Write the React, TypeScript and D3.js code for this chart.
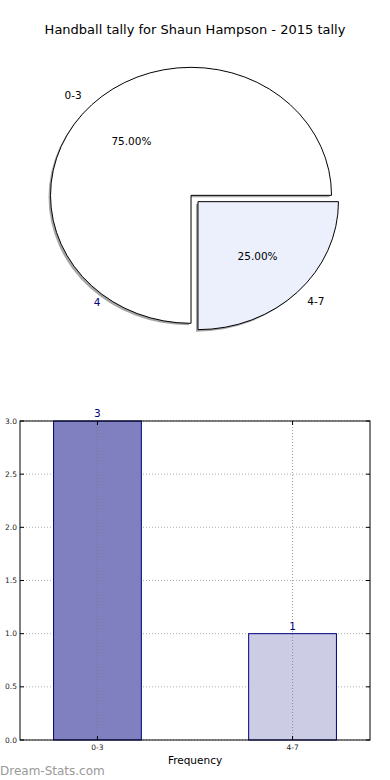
import { useEffect, useRef } from 'react';
import * as d3 from 'd3';

// pie data
const pieLabels = ['0-3', '4-7'];
const pieValues = [3, 1];
const pieColors = ['#ffffff', '#ebf0fc'];

// bar data
const barCategories = ['0-3', '4-7'];
const barValues = [3, 1];
const barColors = ['#8080c0', '#ccccE4'];
const yTickValues = [0, 0.5, 1, 1.5, 2, 2.5, 3];

const W = 390;
const H = 780;

const App = () => {
  const svgRef = useRef<SVGSVGElement | null>(null);

  useEffect(() => {
    const svg = d3.select(svgRef.current);
    svg.selectAll('*').remove();
    const font = '"DejaVu Sans", Verdana, sans-serif';

    svg.append('rect').attr('width', W).attr('height', H).attr('fill', '#fff');

    // Title
    svg.append('text')
      .attr('x', 195)
      .attr('y', 34)
      .attr('text-anchor', 'middle')
      .style('font-family', font)
      .style('font-size', '13px')
      .style('fill', '#000')
      .text('Handball tally for Shaun Hampson - 2015 tally');

    // Pie (elliptical, matplotlib style: start east, counterclockwise)
    const cx = 194.5;
    const cy = 198.5;
    const rx = 140.5;
    const ry = 128;
    const explode = 0.035;

    const pie = d3.pie<number>()
      .sort(null)
      .startAngle(Math.PI / 2)
      .endAngle(Math.PI / 2 - 2 * Math.PI);
    const arcs = pie(pieValues);
    const arc = d3.arc<d3.PieArcDatum<number>>().innerRadius(0).outerRadius(1);
    const total = d3.sum(pieValues);

    const pt = (a: number, r: number) => [Math.sin(a) * r * rx, -Math.cos(a) * r * ry];

    const pieG = svg.append('g');

    // shadows first
    arcs.forEach(d => {
      const mid = (d.startAngle + d.endAngle) / 2;
      const [ox, oy] = pt(mid, explode);
      pieG.append('path')
        .attr('d', arc(d))
        .attr('transform', `translate(${cx + ox - 2},${cy + oy + 2}) scale(${rx},${ry})`)
        .attr('fill', '#4d4d4d')
        .attr('fill-opacity', 0.5);
    });

    arcs.forEach((d, i) => {
      const mid = (d.startAngle + d.endAngle) / 2;
      const [ox, oy] = pt(mid, explode);
      pieG.append('path')
        .attr('d', arc(d))
        .attr('transform', `translate(${cx + ox},${cy + oy}) scale(${rx},${ry})`)
        .attr('fill', pieColors[i])
        .attr('stroke', '#000')
        .attr('stroke-width', 1)
        .attr('vector-effect', 'non-scaling-stroke');

      const [lx, ly] = pt(mid, 1.1);
      pieG.append('text')
        .attr('x', cx + ox + lx)
        .attr('y', cy + oy + ly)
        .attr('dy', '0.35em')
        .attr('text-anchor', lx < 0 ? 'end' : 'start')
        .style('font-family', font)
        .style('font-size', '10.5px')
        .text(pieLabels[i]);

      const [px, py] = pt(mid, 0.6);
      pieG.append('text')
        .attr('x', cx + ox + px)
        .attr('y', cy + oy + py)
        .attr('dy', '0.35em')
        .attr('text-anchor', 'middle')
        .style('font-family', font)
        .style('font-size', '10.5px')
        .text(`${((pieValues[i] / total) * 100).toFixed(2)}%`);
    });

    // stray label
    pieG.append('text')
      .attr('x', 97)
      .attr('y', 302)
      .attr('dy', '0.35em')
      .attr('text-anchor', 'middle')
      .style('font-family', font)
      .style('font-size', '10.5px')
      .style('fill', '#000080')
      .text('4');

    // Bar chart
    const left = 20, right = 370, top = 421, bottom = 740;

    const xScale = d3.scalePoint<string>()
      .domain(barCategories)
      .range([left, right])
      .padding(0.397);
    const barW = xScale.step() * 0.45;

    const yScale = d3.scaleLinear().domain([0, 3]).range([bottom, top]);

    const g = svg.append('g');

    // grid
    g.selectAll('.ygrid')
      .data(yTickValues)
      .enter()
      .append('line')
      .attr('x1', left)
      .attr('x2', right)
      .attr('y1', d => yScale(d))
      .attr('y2', d => yScale(d))
      .attr('stroke', '#b0b0b0')
      .attr('stroke-width', 1)
      .attr('stroke-dasharray', '1,2');

    // bars
    g.selectAll('.bar')
      .data(barValues)
      .enter()
      .append('rect')
      .attr('x', (d, i) => (xScale(barCategories[i]) as number) - barW / 2)
      .attr('y', d => yScale(d))
      .attr('width', barW)
      .attr('height', d => bottom - yScale(d))
      .attr('fill', (d, i) => barColors[i])
      .attr('stroke', '#000080')
      .attr('stroke-width', 1);

    g.selectAll('.xgrid')
      .data(barCategories)
      .enter()
      .append('line')
      .attr('x1', d => xScale(d) as number)
      .attr('x2', d => xScale(d) as number)
      .attr('y1', top)
      .attr('y2', bottom)
      .attr('stroke', '#707070')
      .attr('stroke-opacity', 0.7)
      .attr('stroke-width', 1)
      .attr('stroke-dasharray', '1,2');

    // value labels
    g.selectAll('.bar-label')
      .data(barValues)
      .enter()
      .append('text')
      .attr('x', (d, i) => xScale(barCategories[i]) as number)
      .attr('y', d => yScale(d) - 4)
      .attr('text-anchor', 'middle')
      .style('font-family', font)
      .style('font-size', '10.5px')
      .style('fill', '#000080')
      .text(d => d);

    // frame
    g.append('rect')
      .attr('x', left)
      .attr('y', top)
      .attr('width', right - left)
      .attr('height', bottom - top)
      .attr('fill', 'none')
      .attr('stroke', '#000')
      .attr('stroke-width', 1);

    // y ticks
    yTickValues.forEach(v => {
      const y = yScale(v);
      g.append('line').attr('x1', left).attr('x2', left + 4).attr('y1', y).attr('y2', y)
        .attr('stroke', '#000');
      g.append('line').attr('x1', right - 4).attr('x2', right).attr('y1', y).attr('y2', y)
        .attr('stroke', '#000');
      g.append('text')
        .attr('x', left - 3)
        .attr('y', y)
        .attr('dy', '0.35em')
        .attr('text-anchor', 'end')
        .style('font-family', font)
        .style('font-size', '7.5px')
        .style('fill', '#222')
        .text(v.toFixed(1));
    });

    // x ticks
    barCategories.forEach(c => {
      const x = xScale(c) as number;
      g.append('line').attr('x1', x).attr('x2', x).attr('y1', bottom - 4).attr('y2', bottom)
        .attr('stroke', '#000');
      g.append('line').attr('x1', x).attr('x2', x).attr('y1', top).attr('y2', top + 4)
        .attr('stroke', '#000');
      g.append('text')
        .attr('x', x)
        .attr('y', bottom + 10)
        .attr('text-anchor', 'middle')
        .style('font-family', font)
        .style('font-size', '7.5px')
        .style('fill', '#222')
        .text(c);
    });

    g.append('text')
      .attr('x', (left + right) / 2)
      .attr('y', 764)
      .attr('text-anchor', 'middle')
      .style('font-family', font)
      .style('font-size', '10.5px')
      .text('Frequency');

    // watermark
    svg.append('text')
      .attr('x', 0)
      .attr('y', 775)
      .style('font-family', font)
      .style('font-size', '12px')
      .style('fill', '#999')
      .text('Dream-Stats.com');
  }, []);

  return (
    <svg
      ref={svgRef}
      width={W}
      height={H}
      style={{ position: 'absolute', left: 0, top: 0 }}
    />
  );
};

export default App;
